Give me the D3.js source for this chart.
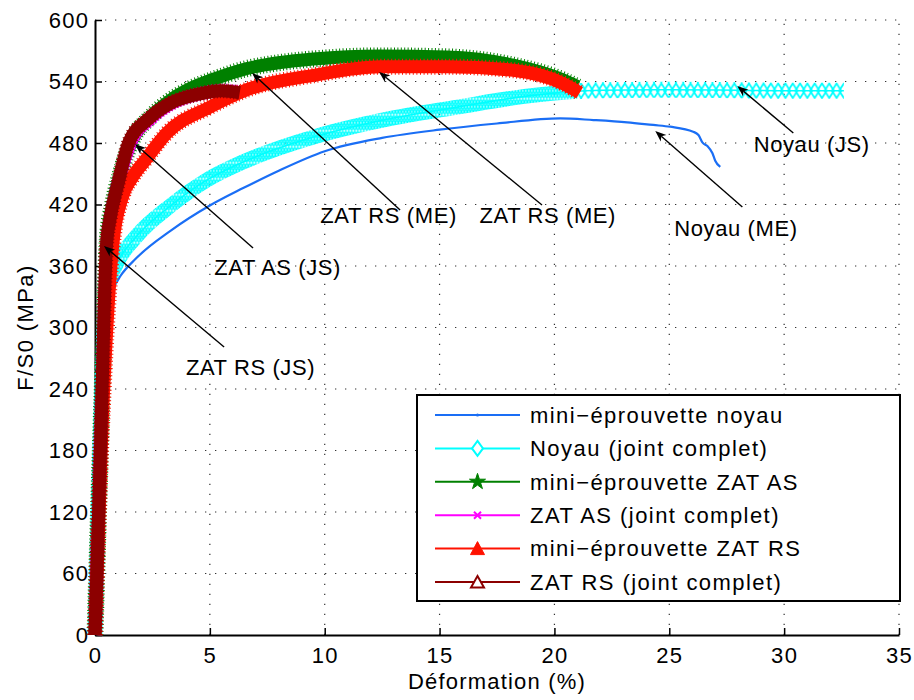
<!DOCTYPE html>
<html><head><meta charset="utf-8">
<script src="https://cdn.jsdelivr.net/npm/d3@7"></script>
<style>
body{margin:0;background:#fff;}
svg text{font-family:"Liberation Sans",Arial,Helvetica,sans-serif;fill:#000;}
</style></head><body>
<svg id="c" width="914" height="700"></svg>
<script>
// ---------- data ----------
const xTicks = [0,5,10,15,20,25,30,35];
const yTicks = [0,60,120,180,240,300,360,420,480,540,600];
const xLabel = "Déformation (%)";
const yLabel = "F/S0 (MPa)";

const legendLabels = [
  "mini\u2212éprouvette noyau",
  "Noyau (joint complet)",
  "mini\u2212éprouvette ZAT AS",
  "ZAT AS (joint complet)",
  "mini\u2212éprouvette ZAT RS",
  "ZAT RS (joint complet)"
];

const miniNoyauX = [0,0.5,0.75,1.1,1.77,3.33,5.0,6.45,8.0,10.0,12.5,15.0,17.5,20.25,21.7,23.17,24.3,25.04,26.04,26.27,26.45,26.66,26.88,27.0,27.22];
const miniNoyauY = [0,320,336,350,367,395,419,436,453,472,485,493,499,504,502.4,500.2,497.6,495.9,491,487.8,480.3,477,470,462.7,456.6];

const noyauJointX = [0,0.45,0.62,0.84,1.77,3.33,4.88,6.45,9.54,12.67,15.77,18.88,22.0,25.0,28.0,30.0,32.6];
const noyauJointY = [0,320,345,358,388,419.5,444,461.5,486,503,515,526,531.5,532,531.5,531,531];

const miniZatAsX = [0,0.3,0.55,0.75,1.1,1.6,2.4,3.3,4.14,5.14,6.62,8.06,9.5,12.4,15.33,18.2,20.38,21.0];
const miniZatAsY = [0,230,390,418,450,482,505,522,533,542,552.7,558.5,562,565,564,556,541.5,535];

const zatAsJointX = [0,0.3,0.55,0.75,1.1,1.6,2.4,3.4,4.6,5.6,6.2];
const zatAsJointY = [0,230,385,415,448,482,503,519,528,531,530];

const miniZatRsX = [0,0.3,0.61,0.78,1.2,1.61,2.18,3.14,5.0,6.62,9.5,12.4,15.33,18.2,20.38,21.1];
const miniZatRsY = [0,200,334,382,428,446,463,490,515,532,546,554.5,554.5,551,538,529];

const zatRsJointX = [0,0.25,0.5,0.65,1.0,1.48,2.3,3.3,4.57,5.5,6.3];
const zatRsJointY = [0,190,380,405,440,481,503,519,528,531,529];

// annotations: label, arrow tail (x,y), arrow head (x,y), text anchor (x, baseline y) in data units
const annotLabels = ["ZAT RS (ME)","ZAT RS (ME)","ZAT AS (JS)","ZAT RS (JS)","Noyau (ME)","Noyau (JS)"];
const annotTailX = [13.28,19.46,6.88,5.62,28.18,30.4];
const annotTailY = [414.6,419.5,377.6,281,417.6,489.8];
const annotHeadX = [6.84,12.37,1.74,0.39,24.39,27.96];
const annotHeadY = [548.3,549.3,479,379.5,491.7,535.6];
const annotTextX = [12.78,19.71,7.95,6.77,27.9,31.2];
const annotTextY = [402,402,351,253.7,389.3,471.2];

// ---------- chart ----------
const svg = d3.select("#c");
const x = d3.scaleLinear().domain([0,35]).range([95,899]);
const y = d3.scaleLinear().domain([0,600]).range([635,20]);

const series = [
  {label:legendLabels[0], xs:miniNoyauX, ys:miniNoyauY, color:"#1a6ef5", kind:"thin"},
  {label:legendLabels[1], xs:noyauJointX, ys:noyauJointY, color:"#00ffff", kind:"diamond"},
  {label:legendLabels[2], xs:miniZatAsX, ys:miniZatAsY, color:"#008000", kind:"band", w:13, fw:17, fd:"1,2.4"},
  {label:legendLabels[3], xs:zatAsJointX, ys:zatAsJointY, color:"#ff00ff", kind:"band", w:12, fw:14, fd:"1,2.5"},
  {label:legendLabels[4], xs:miniZatRsX, ys:miniZatRsY, color:"#ff1200", kind:"band", w:13, fw:16, fd:"1,2.6"},
  {label:legendLabels[5], xs:zatRsJointX, ys:zatRsJointY, color:"#8c0000", kind:"band", w:13, fw:15, fd:"1,2.6"}
];

// diamond patterns for Noyau (joint complet)
const defs = svg.append("defs");
const ph = 16;
const lastX = x(noyauJointX[noyauJointX.length-1]);
const lastY = y(noyauJointY[noyauJointY.length-1]);
function makePattern(id, pw, sw){
  const pat = defs.append("pattern").attr("id",id).attr("patternUnits","userSpaceOnUse")
    .attr("width",pw).attr("height",ph).attr("x", lastX - pw/2).attr("y", lastY - ph/2);
  for (const dx of [-2,-1,0,1,2]) for (const dy of [-1,0,1]) {
    const cx = pw/2 + dx*pw, cy = ph/2 + dy*ph;
    pat.append("path")
      .attr("d",`M${cx},${cy-7.3}L${cx+4.7},${cy}L${cx},${cy+7.3}L${cx-4.7},${cy}Z`)
      .attr("fill","none").attr("stroke","#00ffff").attr("stroke-width",sw);
  }
}
makePattern("diamSparse", 7.3, 1.8);
makePattern("diamDense", 3.0, 1.5);
const splitX = x(21);
defs.append("clipPath").attr("id","clipDense").append("rect")
  .attr("x",0).attr("y",0).attr("width",splitX).attr("height",700);
defs.append("clipPath").attr("id","clipSparse").append("rect")
  .attr("x",splitX).attr("y",0).attr("width",914-splitX).attr("height",700);

// grid
const grid = svg.append("g");
grid.selectAll("line.v").data(xTicks.filter(d=>d>0)).join("line")
  .attr("x1",d=>x(d)).attr("x2",d=>x(d)).attr("y1",y(0)).attr("y2",y(600))
  .attr("stroke","#333").attr("stroke-width",1.2).attr("stroke-dasharray","1.3,8.7");
grid.selectAll("line.h").data(yTicks.filter(d=>d>0)).join("line")
  .attr("x1",x(0)).attr("x2",x(35)).attr("y1",d=>y(d)).attr("y2",d=>y(d))
  .attr("stroke","#333").attr("stroke-width",1.2).attr("stroke-dasharray","1.3,8.7");

// axes
const tickFont = g => g.selectAll("text").attr("font-size",22).style("letter-spacing","1.3px")
  .attr("fill","#000");
const gx = svg.append("g").attr("transform",`translate(0,${y(0)})`)
  .call(d3.axisBottom(x).tickValues(xTicks).tickSize(-7).tickSizeOuter(0).tickPadding(12).tickFormat(d3.format("d")));
const gy = svg.append("g").attr("transform",`translate(${x(0)},0)`)
  .call(d3.axisLeft(y).tickValues(yTicks).tickSize(-7).tickSizeOuter(0).tickPadding(7).tickFormat(d3.format("d")));
[gx,gy].forEach(g=>{
  g.select(".domain").attr("stroke","#000").attr("stroke-width",2);
  g.selectAll(".tick line").attr("stroke","#000").attr("stroke-width",1.5);
  tickFont(g);
});
gy.selectAll("text").attr("dx","1.3");

svg.append("text").attr("x",(x(0)+x(35))/2).attr("y",689).attr("text-anchor","middle")
  .attr("font-size",22).style("letter-spacing","1.2px").text(xLabel);
svg.append("text").attr("transform",`translate(33,${(y(0)+y(600))/2}) rotate(-90)`).attr("text-anchor","middle")
  .attr("font-size",22).style("letter-spacing","1.4px").text(yLabel);

// curves
const plot = svg.append("g");
const mkLine = (xs,ys) => d3.line().x((d,i)=>x(xs[i])).y((d,i)=>y(ys[i])).curve(d3.curveMonotoneX)(xs);
series.forEach(s=>{
  const d = mkLine(s.xs, s.ys);
  if (s.kind === "thin") {
    plot.append("path").attr("d",d).attr("fill","none").attr("stroke",s.color).attr("stroke-width",2.2)
      .attr("stroke-linejoin","round");
  } else if (s.kind === "diamond") {
    plot.append("path").attr("d",d).attr("fill","none").attr("stroke","url(#diamDense)").attr("stroke-width",15)
      .attr("clip-path","url(#clipDense)");
    plot.append("path").attr("d",d).attr("fill","none").attr("stroke","url(#diamSparse)").attr("stroke-width",16)
      .attr("clip-path","url(#clipSparse)");
    plot.append("path").attr("d",d).attr("fill","none").attr("stroke",s.color).attr("stroke-width",1.6);
  } else {
    plot.append("path").attr("d",d).attr("fill","none").attr("stroke",s.color).attr("stroke-width",s.fw)
      .attr("stroke-dasharray",s.fd);
    plot.append("path").attr("d",d).attr("fill","none").attr("stroke",s.color).attr("stroke-width",s.w)
      .attr("stroke-linejoin","round");
  }
});

// annotations
const ann = svg.append("g");
annotLabels.forEach((lab,i)=>{
  const x1 = x(annotTailX[i]), y1 = y(annotTailY[i]);
  const x2 = x(annotHeadX[i]), y2 = y(annotHeadY[i]);
  const a = Math.atan2(y2-y1, x2-x1);
  const L = 11, Wd = 4.3, N = 8;
  const bx = x2 - L*Math.cos(a), by = y2 - L*Math.sin(a);
  const nx = x2 - N*Math.cos(a), ny = y2 - N*Math.sin(a);
  const px = -Math.sin(a), py = Math.cos(a);
  ann.append("line").attr("x1",x1).attr("y1",y1).attr("x2",nx).attr("y2",ny)
    .attr("stroke","#000").attr("stroke-width",1.4);
  ann.append("path")
    .attr("d",`M${x2},${y2}L${bx+px*Wd},${by+py*Wd}L${nx},${ny}L${bx-px*Wd},${by-py*Wd}Z`)
    .attr("fill","#000");
  ann.append("text").attr("x",x(annotTextX[i])).attr("y",y(annotTextY[i])).attr("text-anchor","middle")
    .attr("font-size",22).style("letter-spacing","0.6px").text(lab);
});

// legend
const lg = svg.append("g");
lg.append("rect").attr("x",417).attr("y",395).attr("width",483).attr("height",206)
  .attr("fill","#fff").attr("stroke","#000").attr("stroke-width",2);
const rowY = i => 415 + i*33.4;
series.forEach((s,i)=>{
  const yy = rowY(i);
  lg.append("line").attr("x1",435).attr("x2",520).attr("y1",yy).attr("y2",yy)
    .attr("stroke",s.color).attr("stroke-width",2);
  const mx = 477.5;
  if (i===0) {
    lg.append("circle").attr("cx",mx).attr("cy",yy).attr("r",1.6).attr("fill",s.color);
  } else if (i===1) {
    lg.append("path").attr("d",`M${mx},${yy-7.5}L${mx+5.5},${yy}L${mx},${yy+7.5}L${mx-5.5},${yy}Z`)
      .attr("fill","#fff").attr("stroke",s.color).attr("stroke-width",2);
  } else if (i===2) {
    lg.append("path").attr("d",d3.symbol(d3.symbolStar,80)()).attr("transform",`translate(${mx},${yy})`)
      .attr("fill",s.color).attr("stroke",s.color).attr("stroke-width",1);
  } else if (i===3) {
    lg.append("path").attr("d",`M${mx-3.5},${yy-3.5}L${mx+3.5},${yy+3.5}M${mx-3.5},${yy+3.5}L${mx+3.5},${yy-3.5}`)
      .attr("stroke",s.color).attr("stroke-width",2);
  } else if (i===4) {
    lg.append("path").attr("d",`M${mx},${yy-7}L${mx+7},${yy+6}L${mx-7},${yy+6}Z`).attr("fill",s.color)
      .attr("stroke",s.color).attr("stroke-width",1);
  } else {
    lg.append("path").attr("d",`M${mx},${yy-6}L${mx+6.5},${yy+5.5}L${mx-6.5},${yy+5.5}Z`).attr("fill","#fff")
      .attr("stroke",s.color).attr("stroke-width",2);
  }
  lg.append("text").attr("x",530).attr("y",yy).attr("dy","0.35em").attr("font-size",22)
    .style("letter-spacing","1.45px").text(s.label);
});
</script>
</body></html>
